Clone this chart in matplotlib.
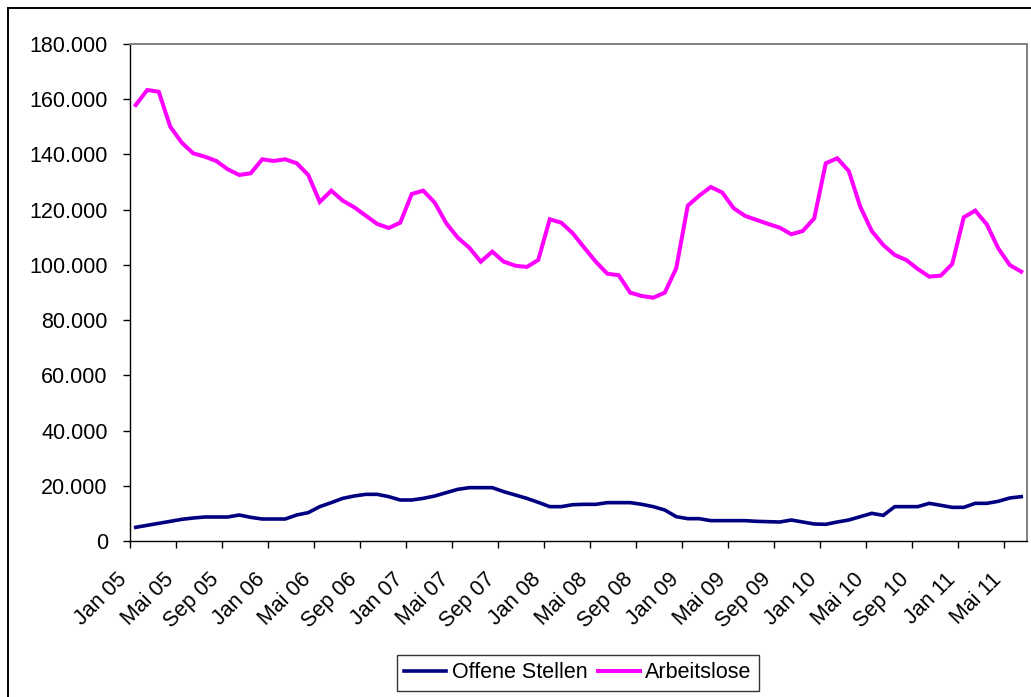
import matplotlib
matplotlib.use("Agg")
import matplotlib.pyplot as plt
from matplotlib.ticker import FixedLocator, FuncFormatter
from matplotlib.transforms import ScaledTranslation
from matplotlib.patches import Rectangle
import numpy as np

plt.rcParams['font.family'] = ['Liberation Sans', 'DejaVu Sans']

# Monthly series, Jan 2005 – Jun 2011
offene_stellen = [
    4950, 5680, 6400, 7120, 7850, 8330, 8690, 8690, 8690, 9420, 8570, 7970,
    7970, 7970, 9420, 10270, 12440, 13890, 15450, 16300, 16900, 16900, 16060, 14850,
    14850, 15450, 16300, 17510, 18710, 19320, 19320, 19320, 17870, 16660, 15450, 14000,
    12440, 12440, 13150, 13280, 13280, 13890, 13890, 13890, 13280, 12440, 11230, 8810,
    8090, 8090, 7370, 7370, 7370, 7370, 7120, 7000, 6880, 7600, 6880, 6160,
    6040, 6880, 7600, 8810, 10020, 9290, 12440, 12440, 12440, 13640, 12920, 12190,
    12190, 13640, 13640, 14370, 15580, 16060,
]
arbeitslose = [
    157900, 163350, 162700, 150060, 144270, 140400, 139200, 137640, 134630, 132570, 133180, 138250,
    137640, 138250, 136800, 132570, 122790, 126880, 123260, 120870, 117830, 114820, 113370, 115290,
    125680, 126880, 122540, 115070, 109860, 106240, 101170, 104790, 101170, 99720, 99240, 101780,
    116520, 115290, 111450, 106240, 101170, 96820, 96230, 89940, 88740, 88120, 89940, 98770,
    121450, 125070, 128220, 126200, 120500, 117720, 116270, 114820, 113480, 111090, 112280, 116880,
    136800, 138610, 134010, 121090, 112280, 107210, 103590, 101780, 98520, 95740, 96110, 100330,
    117240, 119650, 114700, 106000, 99960, 97540,
]
tick_labels = [
    "Jan 05", "Mai 05", "Sep 05", "Jan 06", "Mai 06", "Sep 06", "Jan 07", "Mai 07",
    "Sep 07", "Jan 08", "Mai 08", "Sep 08", "Jan 09", "Mai 09", "Sep 09", "Jan 10",
    "Mai 10", "Sep 10", "Jan 11", "Mai 11",
]
series_names = ["Offene Stellen", "Arbeitslose"]
label_step = 4

W, H = 1031, 697
fig = plt.figure(figsize=(W / 100, H / 100), dpi=100)
fig.patch.set_facecolor("white")

# outer chart frame
fig.patches.append(Rectangle((7.5 / W, -0.05), 2.0, 1 - 8 / H + 0.05,
                             transform=fig.transFigure, fill=False,
                             edgecolor="black", linewidth=1.4, zorder=0))

ax = fig.add_axes([130 / W, 1 - 541 / H, (1027 - 130) / W, (541 - 44) / H])

n = len(arbeitslose)
x = np.arange(n)
l1, = ax.plot(x, offene_stellen, color="#000080", linewidth=2.6, solid_joinstyle="miter")
l2, = ax.plot(x, arbeitslose, color="#FF00FF", linewidth=2.9, solid_joinstyle="miter")

ax.set_xlim(-0.5, n - 0.5)
ax.set_ylim(0, 180000)
ax.set_yticks(np.arange(0, 180001, 20000))
ax.yaxis.set_major_formatter(FuncFormatter(lambda v, p: f"{int(v):,}".replace(",", ".")))

# labels at category centres, tick marks at category boundaries
ax.xaxis.set_major_locator(FixedLocator(np.arange(0, n, label_step)))
ax.set_xticklabels(tick_labels)
ax.xaxis.set_minor_locator(FixedLocator(np.arange(-0.5, n, label_step)))
ax.tick_params(axis="x", which="major", length=0, pad=25.5, labelsize=15.5)
ax.tick_params(axis="x", which="minor", length=5, width=1, color="black", direction="out")
ax.tick_params(axis="y", length=5, width=1, color="black", direction="out", pad=11, labelsize=15.5)
offset = ScaledTranslation(-11.5 / 100, 0, fig.dpi_scale_trans)
for lab in ax.get_xticklabels():
    lab.set_rotation(45)
    lab.set_ha("right")
    lab.set_va("center")
    lab.set_rotation_mode("anchor")
    lab.set_transform(lab.get_transform() + offset)

for side in ("left", "bottom"):
    ax.spines[side].set_color("black")
    ax.spines[side].set_linewidth(1.0)
for side in ("top", "right"):
    ax.spines[side].set_color("#808080")
    ax.spines[side].set_linewidth(1.4)

leg = fig.legend([l1, l2], series_names, loc="center",
                 bbox_to_anchor=(578 / W, 1 - 673 / H), ncol=2, frameon=True,
                 fancybox=False, shadow=False, fontsize=15.5, handlelength=1.95,
                 handletextpad=0.25, columnspacing=0.5, borderpad=0.35,
                 borderaxespad=0)
leg.get_frame().set_edgecolor("black")
leg.get_frame().set_linewidth(1.0)

fig.savefig("out.png", dpi=100)
